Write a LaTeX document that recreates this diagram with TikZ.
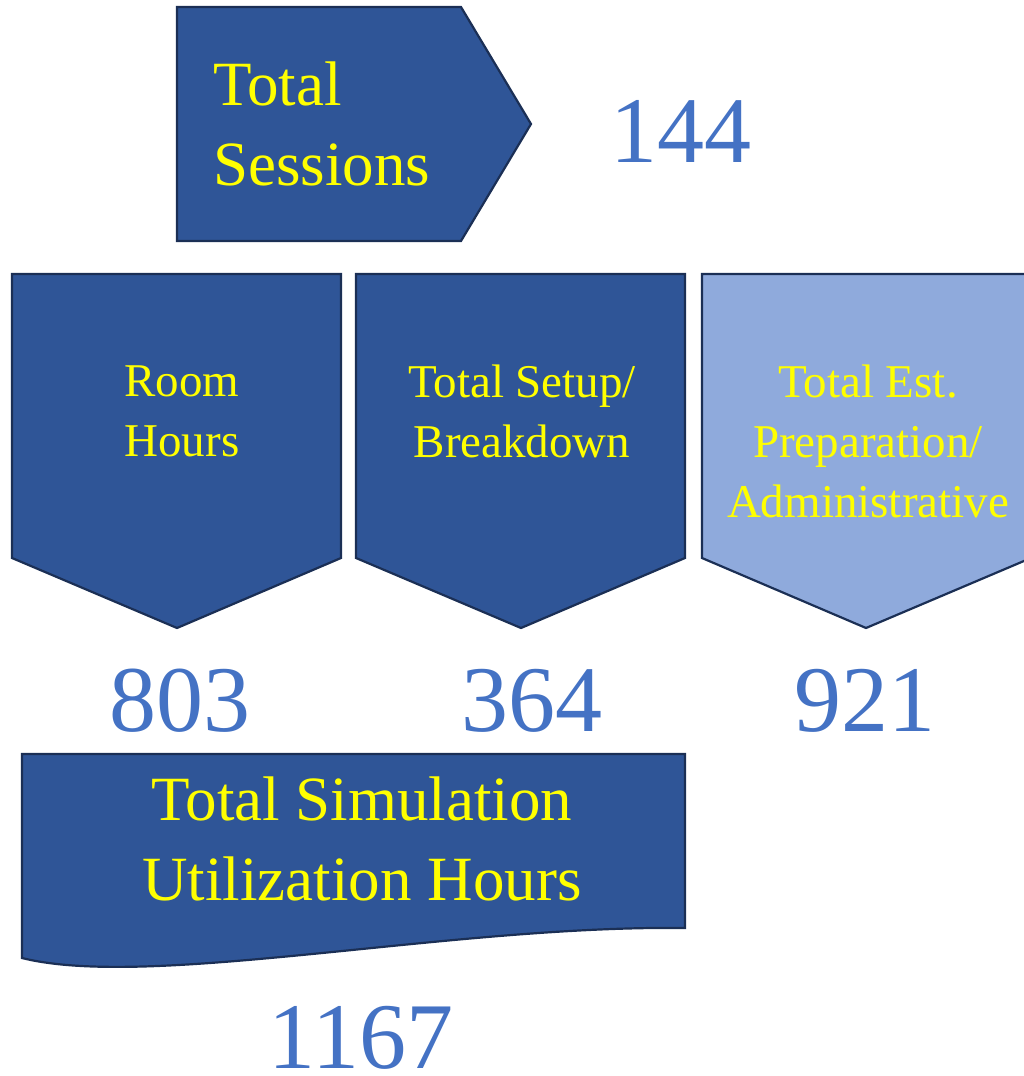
\documentclass[tikz,border=0pt]{standalone}
\usepackage{fontspec}
\setmainfont{Liberation Serif}
\definecolor{darkfill}{HTML}{2F5597}
\definecolor{lightfill}{HTML}{8FAADC}
\definecolor{edgeblue}{HTML}{1B2F55}
\definecolor{numblue}{HTML}{4472C4}
\definecolor{labelyellow}{HTML}{FFFF00}
\tikzset{
  darkshape/.style={fill=darkfill, draw=edgeblue, line width=2.2pt, line join=miter},
  lightshape/.style={fill=lightfill, draw=edgeblue, line width=2.2pt, line join=miter},
  boxlabel/.style={text=labelyellow, inner sep=0pt, align=center, font=\fontsize{47}{60}\selectfont},
  biglabel/.style={text=labelyellow, inner sep=0pt, font=\fontsize{63}{80}\selectfont},
  numlabel/.style={text=numblue, inner sep=0pt, anchor=base, text depth=0pt, font=\fontsize{94}{110}\selectfont}
}
\begin{document}
\begin{tikzpicture}[x=1pt,y=-1pt]
\useasboundingbox (0,0) rectangle (1024,1076);
% top pentagon
\draw[darkshape] (177,7) -- (461,7) -- (531,124) -- (461,241) -- (177,241) -- cycle;
\node[biglabel, anchor=west, align=left] (sessions) at (213,124) {Total\\Sessions};
\node[numlabel] (n144) at (681,162) {144};
% chevrons
\draw[darkshape] (12,274) -- (341,274) -- (341,558) -- (177,628) -- (12,558) -- cycle;
\draw[darkshape] (356,274) -- (685,274) -- (685,558) -- (521,628) -- (356,558) -- cycle;
\draw[lightshape] (702,274) -- (1031,274) -- (1031,558) -- (866,628) -- (702,558) -- cycle;
\node[boxlabel] (room) at (182,411) {Room\\Hours};
\node[boxlabel] (setup) at (522,411) {Total Setup/\\Breakdown};
\node[boxlabel] (prep) at (868,441) {Total Est.\\Preparation/\\Administrative};
\node[numlabel] (n803) at (180,731) {803};
\node[numlabel] (n364) at (532,731) {364};
\node[numlabel] (n921) at (865,731) {921};
% wave shape
\draw[darkshape] (22,754) -- (685,754) -- (685,928) .. controls (450,925) and (150,990) .. (22,958) -- cycle;
\node[biglabel, align=center] (simul) at (362,839) {Total Simulation\\Utilization Hours};
\node[numlabel] (n1167) at (361,1068) {1167};
\end{tikzpicture}
\end{document}
